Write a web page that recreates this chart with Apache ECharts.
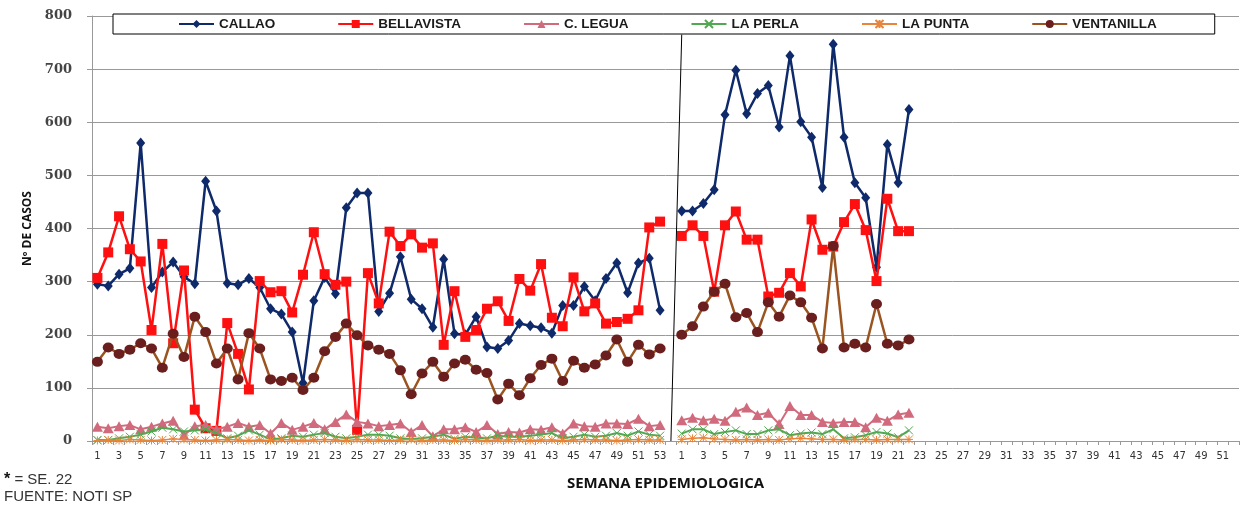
<!DOCTYPE html>
<html>
<head>
<meta charset="utf-8">
<script src="https://cdn.jsdelivr.net/npm/echarts@6/dist/echarts.min.js"></script>
<style>
html,body{margin:0;padding:0;background:#fff;}
#chart{width:1242px;height:507px;}
</style>
</head>
<body>
<div id="chart"></div>
<script>
// ---- tick labels (epidemiological weeks) ----
var weeksYear1 = ['1','2','3','4','5','6','7','8','9','10','11','12','13','14','15','16','17','18','19','20','21','22','23','24','25','26','27','28','29','30','31','32','33','34','35','36','37','38','39','40','41','42','43','44','45','46','47','48','49','50','51','52','53'];
var weeksYear2 = ['1','2','3','4','5','6','7','8','9','10','11','12','13','14','15','16','17','18','19','20','21','22','23','24','25','26','27','28','29','30','31','32','33','34','35','36','37','38','39','40','41','42','43','44','45','46','47','48','49','50','51','52'];
var yTicks = [0,100,200,300,400,500,600,700,800];

// ---- series names ----
var seriesNames = ['CALLAO','BELLAVISTA','C. LEGUA','LA PERLA','LA PUNTA','VENTANILLA'];

// ---- values, year 1 (weeks 1-53) ----
var callao1 = [295,292,314,325,561,289,318,337,309,296,489,433,297,294,306,289,249,239,205,109,264,308,277,439,467,467,244,278,347,267,249,214,342,202,200,234,177,174,189,221,217,213,203,255,255,291,264,306,335,279,335,344,246];
var bella1  = [307,355,423,361,338,209,371,184,321,59,24,19,222,164,97,301,280,282,242,313,393,314,294,300,21,316,259,394,367,389,364,372,181,282,196,209,249,263,226,305,283,333,232,216,308,244,259,221,224,230,246,402,413];
var legua1  = [27,24,28,30,22,27,33,38,11,28,30,22,27,34,27,30,14,34,21,27,34,22,36,50,36,33,28,30,33,17,30,9,22,22,26,17,30,13,17,16,22,21,26,14,33,28,27,33,33,32,42,28,30];
var perla1  = [2,2,5,8,12,18,25,22,18,20,22,15,5,10,20,12,3,5,10,8,12,15,8,5,8,12,12,10,5,4,5,8,12,4,8,6,5,10,8,8,10,12,15,5,8,12,8,10,15,10,18,12,10];
var punta1  = [1,2,1,3,2,1,2,4,3,2,1,2,3,2,1,2,1,3,2,1,2,3,2,1,3,2,2,1,2,3,1,2,2,1,3,2,1,2,2,3,1,2,2,1,2,3,2,2,1,2,3,2,2];
var venta1  = [149,176,164,172,184,174,138,202,158,234,205,146,174,116,203,174,116,113,119,96,119,169,196,221,199,180,172,164,133,88,127,149,121,146,153,134,128,78,108,86,118,143,155,113,151,138,144,161,191,149,181,163,174];

// ---- values, year 2 (weeks 1-22) ----
var callao2 = [433,433,447,473,614,698,616,654,669,591,725,601,572,477,747,572,486,458,327,558,486,624];
var bella2  = [386,406,386,281,406,432,379,379,272,279,316,291,417,360,366,412,446,397,301,456,395,395];
var legua2  = [39,44,39,42,38,55,63,49,53,32,66,49,49,36,34,36,36,26,44,38,50,53];
var perla2  = [14,22,22,13,17,20,13,13,20,22,11,14,16,13,22,5,7,11,17,14,7,20];
var punta2  = [3,5,6,4,3,2,3,2,3,2,4,5,4,3,3,2,3,3,2,3,3,3];
var venta2  = [200,216,253,281,296,233,241,205,261,234,274,261,232,174,367,176,183,176,258,183,180,191];

// categories: year 1 weeks, one empty separator slot, year 2 weeks
var categories = weeksYear1.concat([''], weeksYear2);

function joinYears(a, b) {
  var out = a.concat([null], b);
  while (out.length < categories.length) out.push(null);
  return out;
}

var colors = {
  callao: '#0F2A6A',
  bella: '#FF1010',
  legua: '#D16A7C',
  perla: '#52A852',
  punta: '#E8853A',
  ventaLine: '#9A5420',
  ventaMark: '#6A1E1E'
};

var chart = echarts.init(document.getElementById('chart'), null, {renderer: 'canvas'});

var common = {type: 'line', connectNulls: false, showAllSymbol: true};

var option = {
  animation: false,
  backgroundColor: '#fff',
  grid: {left: 92, right: 3, top: 16, bottom: 66, containLabel: false},
  legend: {
    data: seriesNames,
    left: 113, top: 14,
    padding: [3, 58, 3, 65],
    itemGap: 62,
    itemWidth: 35, itemHeight: 10,
    borderColor: '#000', borderWidth: 1,
    backgroundColor: '#fff',
    textStyle: {fontFamily: 'Liberation Sans', fontWeight: 'bold', fontSize: 13.5, color: '#1a1a1a'}
  },
  xAxis: {
    type: 'category',
    data: categories,
    boundaryGap: true,
    name: 'SEMANA EPIDEMIOLOGICA',
    nameLocation: 'middle',
    nameGap: 35,
    nameTextStyle: {fontFamily: 'Open Sans', fontWeight: 'bold', fontSize: 15, color: '#111'},
    axisLine: {lineStyle: {color: '#999', width: 1}},
    axisTick: {show: true, interval: 0, length: 4, lineStyle: {color: '#999'}},
    axisLabel: {interval: 1, fontFamily: 'DejaVu Sans', fontSize: 10, color: '#333', margin: 10},
    splitLine: {show: false}
  },
  yAxis: {
    type: 'value',
    min: yTicks[0], max: yTicks[yTicks.length - 1], interval: 100,
    name: 'Nº DE CASOS',
    nameLocation: 'middle',
    nameGap: 44,
    nameRotate: 90,
    nameTextStyle: {fontFamily: 'Open Sans', fontWeight: 'bold', fontSize: 12, color: '#111'},
    axisLine: {show: true, lineStyle: {color: '#999', width: 1}},
    axisTick: {show: true, length: 5, lineStyle: {color: '#999'}},
    axisLabel: {fontFamily: 'DejaVu Serif', fontWeight: 'bold', fontSize: 13, color: '#444', margin: 20},
    splitLine: {lineStyle: {color: '#999', width: 1}}
  },
  series: [
    Object.assign({}, common, {
      name: seriesNames[0], data: joinYears(callao1, callao2),
      symbol: 'diamond', symbolSize: [9, 11],
      lineStyle: {color: colors.callao, width: 2.5}, itemStyle: {color: colors.callao},
      z: 2,
      markLine: {
        silent: true, symbol: ['none', 'none'], label: {show: false},
        lineStyle: {color: '#000', width: 1, type: 'solid'},
        data: [[{coord: [54, 765]}, {coord: [53, 0]}]]
      }
    }),
    Object.assign({}, common, {
      name: seriesNames[1], data: joinYears(bella1, bella2),
      symbol: 'rect', symbolSize: 10,
      lineStyle: {color: colors.bella, width: 2.5}, itemStyle: {color: colors.bella}, z: 3
    }),
    Object.assign({}, common, {
      name: seriesNames[2], data: joinYears(legua1, legua2),
      symbol: 'triangle', symbolSize: [11, 10],
      lineStyle: {color: colors.legua, width: 2}, itemStyle: {color: colors.legua}, z: 4
    }),
    Object.assign({}, common, {
      name: seriesNames[3], data: joinYears(perla1, perla2),
      symbol: 'path://M0,0L10,10M10,0L0,10', symbolSize: 8,
      lineStyle: {color: colors.perla, width: 2}, itemStyle: {color: colors.perla, borderColor: colors.perla, borderWidth: 1}, z: 5
    }),
    Object.assign({}, common, {
      name: seriesNames[4], data: joinYears(punta1, punta2),
      symbol: 'path://M0,0L10,10M10,0L0,10M5,0L5,10M0,5L10,5', symbolSize: 8,
      lineStyle: {color: colors.punta, width: 1.5}, itemStyle: {color: colors.punta, borderColor: colors.punta, borderWidth: 1}, z: 6
    }),
    Object.assign({}, common, {
      name: seriesNames[5], data: joinYears(venta1, venta2),
      symbol: 'circle', symbolSize: [11, 10],
      lineStyle: {color: colors.ventaLine, width: 2.5}, itemStyle: {color: colors.ventaMark}, z: 7
    })
  ],
  graphic: [
    {
      type: 'text', left: 4, top: 472,
      style: {
        text: '{s|*} = SE. 22',
        rich: {s: {fontFamily: 'Liberation Sans', fontWeight: 'bold', fontSize: 16, fill: '#111', verticalAlign: 'top'}},
        fontFamily: 'Liberation Sans', fontSize: 15, fill: '#333'
      }
    },
    {
      type: 'text', left: 4, top: 489,
      style: {text: 'FUENTE: NOTI SP', fontFamily: 'Liberation Sans', fontSize: 15, fill: '#333'}
    }
  ]
};

chart.setOption(option);
</script>
</body>
</html>
